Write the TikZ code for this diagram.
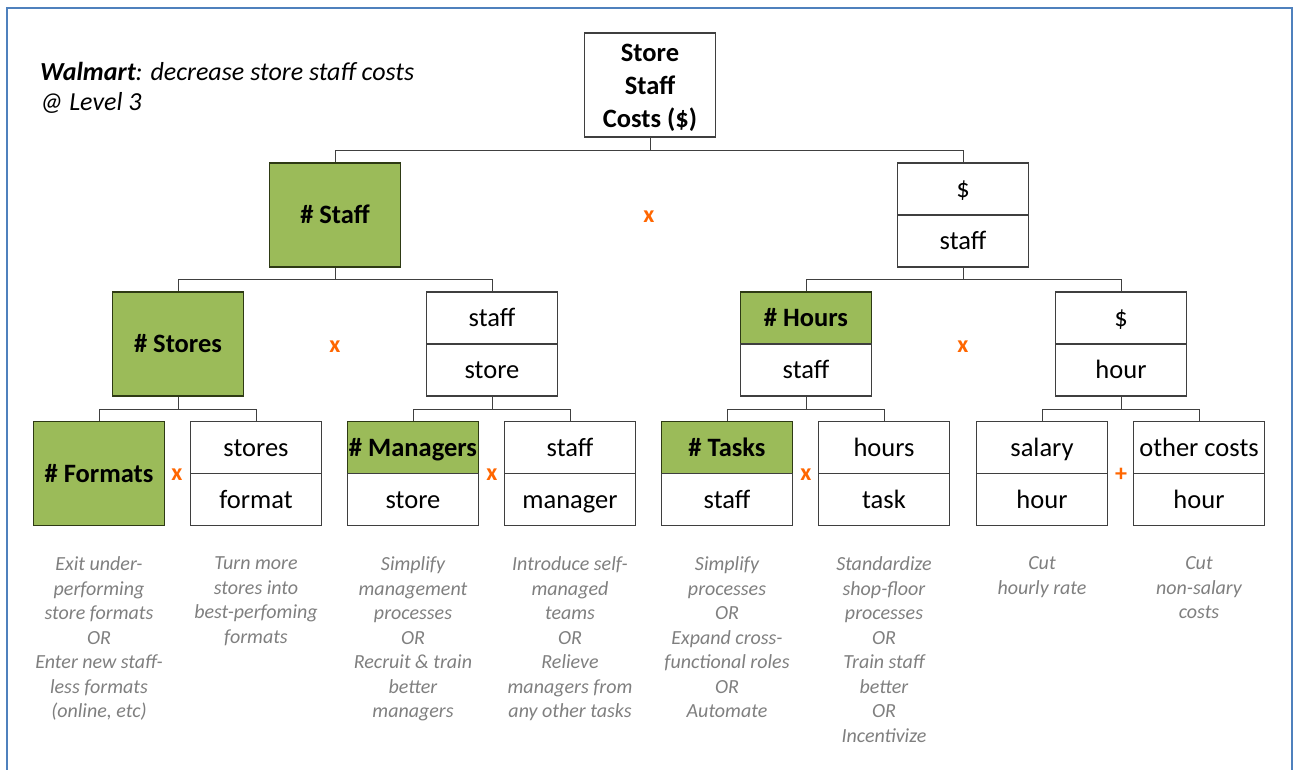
\documentclass[tikz,border=0pt]{standalone}
\usepackage{fontspec}
\setmainfont{Carlito}
\definecolor{kgreen}{HTML}{9BBB59}
\definecolor{kborder}{HTML}{2E3A14}
\definecolor{boxgray}{HTML}{3F3F3F}
\definecolor{conngray}{HTML}{404040}
\definecolor{oporange}{HTML}{FF6600}
\definecolor{ideagray}{HTML}{7F7F7F}
\definecolor{frameblue}{HTML}{4F81BD}
\begin{document}
\begin{tikzpicture}[x=1pt,y=-1pt,
  shell/.style={draw=boxgray, line width=1.1pt, minimum width=131pt, minimum height=104pt, inner sep=0pt},
  box/.style={shell, font=\fontsize{26.5}{33}\selectfont, text height=17pt, text depth=0pt},
  half/.style={box, minimum height=52pt},
  key/.style={fill=kgreen, draw=kborder, font=\fontsize{26.5}{33}\selectfont\bfseries},
  op/.style={text=oporange, font=\fontsize{24}{24}\selectfont\bfseries, inner sep=0pt},
  idea/.style={text=ideagray, font=\fontsize{20}{24.5}\selectfont\itshape, align=center, anchor=north, inner sep=0pt},
  conn/.style={draw=conngray, line width=1pt}]
\useasboundingbox (0,0) rectangle (1293,769);
\draw[frameblue, line width=2pt] (6.5,775) -- (6.5,7.5) -- (1291.5,7.5) -- (1291.5,775);

% title
\node[anchor=north west, align=left, inner sep=0pt, font=\fontsize{26}{30.5}\selectfont\itshape] (title) at (40,62)
  {\textbf{Walmart}: decrease store staff costs\\@ Level 3};

% level 0
\node[shell, align=center, font=\fontsize{26.5}{33}\selectfont\bfseries] (root) at (650,85) {\rule{0pt}{24pt}Store\\Staff\\Costs (\$)};

% level 1
\node[box, key] (staff) at (335,215) {\# Staff};
\node[half] (costT) at (963,189) {\$};
\node[half] (costB) at (963,241) {staff};
\node[op] (op1) at (649,217) {x};

% level 2
\node[box, key] (stores) at (178,344) {\# Stores};
\node[half] (spsT) at (492,318) {staff};
\node[half] (spsB) at (492,370) {store};
\node[op] (op2) at (335,347) {x};
\node[half, key] (hrsT) at (806,318) {\# Hours};
\node[half] (hrsB) at (806,370) {staff};
\node[half] (rateT) at (1121,318) {\$};
\node[half] (rateB) at (1121,370) {hour};
\node[op] (op3) at (963,347) {x};

% level 3
\node[box, key] (formats) at (99,473.5) {\# Formats};
\node[half] (spfT) at (256,447.5) {stores};
\node[half] (spfB) at (256,499.5) {format};
\node[op] (op4) at (177,475) {x};
\node[half, key] (mgrT) at (413,447.5) {\# Managers};
\node[half] (mgrB) at (413,499.5) {store};
\node[half] (spmT) at (570,447.5) {staff};
\node[half] (spmB) at (570,499.5) {manager};
\node[op] (op5) at (492,475) {x};
\node[half, key] (tskT) at (727,447.5) {\# Tasks};
\node[half] (tskB) at (727,499.5) {staff};
\node[half] (hptT) at (884,447.5) {hours};
\node[half] (hptB) at (884,499.5) {task};
\node[op] (op6) at (806,475) {x};
\node[half] (salT) at (1042,447.5) {salary};
\node[half] (salB) at (1042,499.5) {hour};
\node[half] (othT) at (1199,447.5) {other costs};
\node[half] (othB) at (1199,499.5) {hour};
\node[op] (op7) at (1121,475) {+};

% connectors
\draw[conn] (root.south) -- ++(0,13) -| (staff.north);
\draw[conn] (root.south) -- ++(0,13) -| (costT.north);
\draw[conn] (staff.south) -- ++(0,12) -| (stores.north);
\draw[conn] (staff.south) -- ++(0,12) -| (spsT.north);
\draw[conn] (costB.south) -- ++(0,12) -| (hrsT.north);
\draw[conn] (costB.south) -- ++(0,12) -| (rateT.north);
\draw[conn] (stores.south) -- ++(0,13) -| (formats.north);
\draw[conn] (stores.south) -- ++(0,13) -| (spfT.north);
\draw[conn] (spsB.south) -- ++(0,13) -| (mgrT.north);
\draw[conn] (spsB.south) -- ++(0,13) -| (spmT.north);
\draw[conn] (hrsB.south) -- ++(0,13) -| (tskT.north);
\draw[conn] (hrsB.south) -- ++(0,13) -| (hptT.north);
\draw[conn] (rateB.south) -- ++(0,13) -| (salT.north);
\draw[conn] (rateB.south) -- ++(0,13) -| (othT.north);

% ideas
\node[idea] (idea1) at (99,556.5) {Exit under-\\performing\\store formats\\OR\\Enter new staff-\\less formats\\(online, etc)};
\node[idea] (idea2) at (256,556.5) {Turn more\\stores into\\best-perfoming\\formats};
\node[idea] (idea3) at (413,556.5) {Simplify\\management\\processes\\OR\\Recruit \& train\\better\\managers};
\node[idea] (idea4) at (570,556.5) {Introduce self-\\managed\\teams\\OR\\Relieve\\managers from\\any other tasks};
\node[idea] (idea5) at (727,556.5) {Simplify\\processes\\OR\\Expand cross-\\functional roles\\OR\\Automate};
\node[idea] (idea6) at (884,556.5) {Standardize\\shop-floor\\processes\\OR\\Train staff\\better\\OR\\Incentivize};
\node[idea] (idea7) at (1042,556.5) {Cut\\hourly rate};
\node[idea] (idea8) at (1199,556.5) {Cut\\non-salary\\costs};
\end{tikzpicture}
\end{document}
